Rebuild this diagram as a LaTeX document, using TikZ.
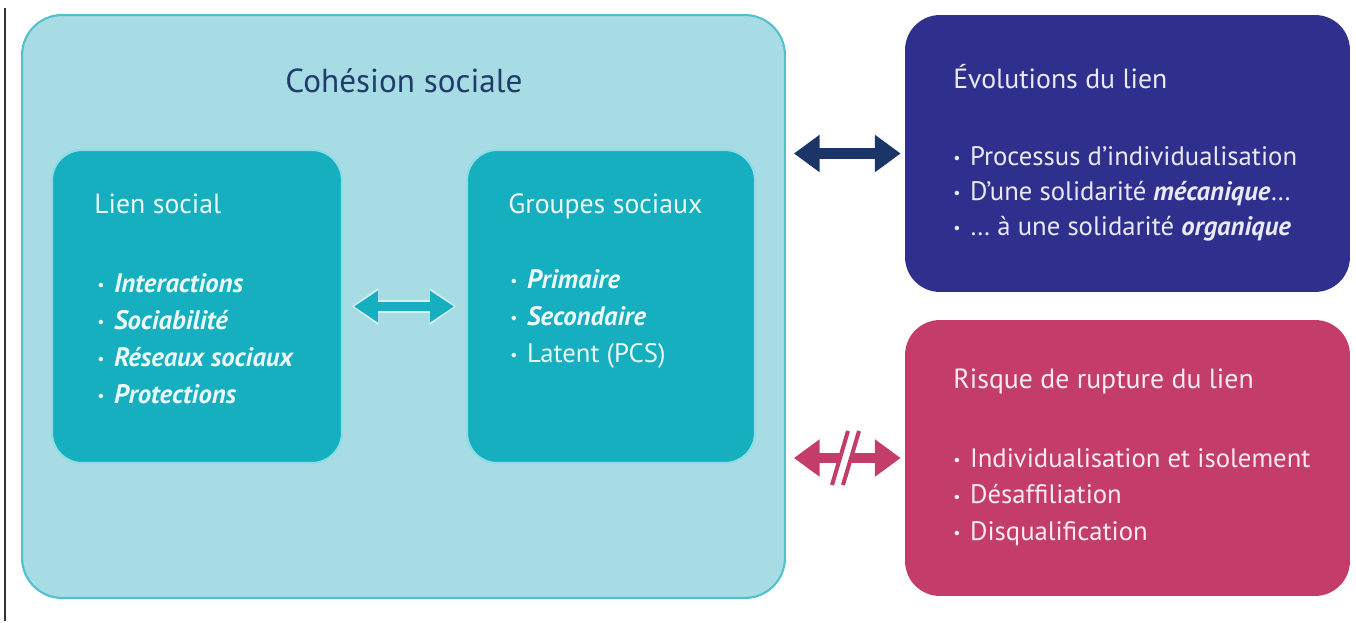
\documentclass[tikz,border=0pt]{standalone}
\usepackage{fontspec}
\setmainfont{PT Sans}
\usepackage{xcolor}
\usetikzlibrary{arrows.meta}
\usetikzlibrary{positioning}
\definecolor{cohfill}{HTML}{A8DCE4}
\definecolor{cohdraw}{HTML}{52C0CD}
\definecolor{innerfill}{HTML}{16AFBF}
\definecolor{innerdraw}{HTML}{8EDCE5}
\definecolor{titlecol}{HTML}{1F3C6B}
\definecolor{evolfill}{HTML}{2F2F8E}
\definecolor{evolarrow}{HTML}{1C3569}
\definecolor{rupfill}{HTML}{C43D6A}
\colorlet{txtinner}{white!92!innerfill}
\colorlet{txtevol}{white!90!evolfill}
\colorlet{txtrup}{white!90!rupfill}
\tikzset{BigTip/.tip={Triangle[length=14.7pt,width=20.4pt]}}
\newcommand{\bul}{\makebox[9.5pt][l]{\raisebox{0.6pt}{\scalebox{0.6}{•}}}}
\newcommand{\bi}[1]{\textbf{\textit{#1}}}

\begin{document}
\begin{tikzpicture}[
x=0.02cm, y=-0.02cm,
BigBox/.style={draw=cohdraw,line width=1.2pt,fill=cohfill,rounded corners=0.8cm,minimum width=15.26cm,minimum height=11.66cm,inner sep=0pt},
InnerBox/.style={draw=innerdraw,line width=1.2pt,fill=innerfill,rounded corners=0.6cm,minimum width=5.8cm,minimum height=6.26cm,inner sep=0pt},
SideBox/.style={rounded corners=0.7cm,minimum width=8.9cm,minimum height=5.54cm,inner sep=0pt},
Heading/.style={anchor=base west,inner sep=0pt,font=\fontsize{15.8}{18}\selectfont},
Item/.style={anchor=base west,inner sep=0pt,font=\fontsize{15.2}{18}\selectfont},
TealArrow/.style={{Triangle[length=13.6pt,width=17pt]}-{Triangle[length=13.6pt,width=17pt]},line width=5pt,draw=innerfill},
TealGlow/.style={{Triangle[length=15pt,width=20pt]}-{Triangle[length=15pt,width=20pt]},line width=7pt,draw=white!55!cohfill},
SideArrow/.style={line width=5.7pt}
]

% page edge
\draw[line width=1.4pt,black!80] (5,8) -- (5,621);

% boxes
\node[BigBox] (CohesionBox) at (403.5,306.5) {};
\node[InnerBox] (LienBox) at (197,306.5) {};
\node[InnerBox,minimum width=5.76cm] (GroupesBox) at (611,306.5) {};
\node[SideBox,fill=evolfill] (EvolBox) at (1127.5,153.5) {};
\node[SideBox,fill=rupfill,minimum height=5.52cm] (RuptureBox) at (1127.5,458) {};

% texts
\node[anchor=base,inner sep=0pt,text=titlecol,font=\fontsize{18.9}{22}\selectfont] (CohTitle) at (404,92) {Cohésion sociale};

\node[Heading,text=txtinner] (LienHead) at (94,213) {Lien social};
\foreach \txt [count=\i] in {\bi{Interactions},\bi{Sociabilité},\bi{Réseaux sociaux},\bi{Protections}}
  \node[Item,text=txtinner] (Lien-\i) at (97,{292+37*(\i-1)}) {\bul\txt};

\node[Heading,text=txtinner] (GroupesHead) at (508,213) {Groupes sociaux};
\foreach \txt [count=\i] in {\bi{Primaire},\bi{Secondaire},{Latent (PCS)}}
  \node[Item,text=txtinner] (Groupes-\i) at (510,{288+37*(\i-1)}) {\bul\txt};

\node[Heading,text=txtevol] (EvolHead) at (953,88) {Évolutions du lien};
\foreach \txt [count=\i] in {{Processus d’individualisation},{D’une solidarité \bi{mécanique}…},{… à une solidarité \bi{organique}}}
  \node[Item,text=txtevol] (Evol-\i) at (953,{165+35*(\i-1)}) {\bul\txt};

\node[Heading,text=txtrup] (RuptHead) at (953,388) {Risque de rupture du lien};
\foreach \txt [count=\i] in {{Individualisation et isolement},{Désaffiliation},{Disqualification}}
  \node[Item,text=txtrup] (Rupt-\i) at (953,{467+36.5*(\i-1)}) {\bul\txt};

% connectors
\draw[TealGlow,shorten <=5pt,shorten >=5.6pt] (LienBox.east) -- (GroupesBox.west);
\draw[TealArrow,shorten <=6.2pt,shorten >=6.8pt] (LienBox.east) -- (GroupesBox.west);

\draw[SideArrow,evolarrow,BigTip-BigTip,shorten <=4.5pt,shorten >=2.3pt] (CohesionBox.east |- EvolBox.west) -- (EvolBox.west);

\coordinate (CutL) at (840,458);
\coordinate (CutR) at (852,458);
\draw[SideArrow,rupfill,BigTip-,shorten <=4.5pt] (CohesionBox.east |- RuptureBox.west) -- (CutL);
\draw[SideArrow,rupfill,-BigTip,shorten >=2.3pt] (CutR) -- (RuptureBox.west);
\draw[rupfill,line width=2.3pt] (832,485) -- (848,431) (843,485) -- (859,431);

\useasboundingbox (0,0) rectangle (1356,621);
\end{tikzpicture}
\end{document}
